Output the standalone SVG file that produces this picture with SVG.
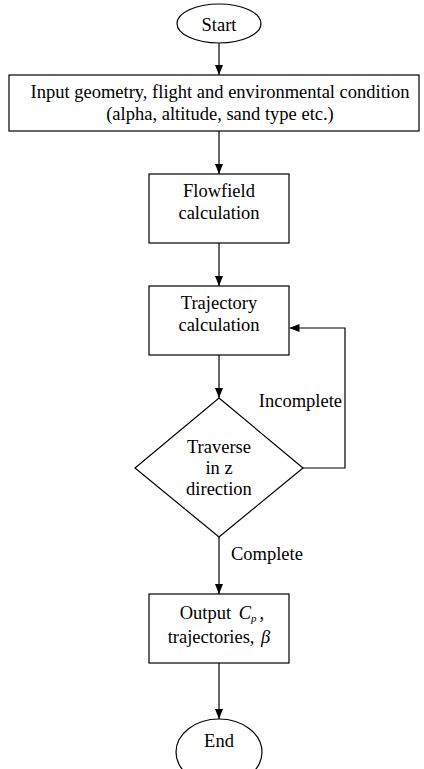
<svg xmlns="http://www.w3.org/2000/svg" width="424" height="769" viewBox="0 0 424 769">
<style>
.s{fill:#fff;stroke:#000;stroke-width:1.2}
.t{font-family:"Liberation Serif","Times New Roman",serif;font-size:18.5px;fill:#000;text-anchor:middle}
.c{fill:none;stroke:#000;stroke-width:1.2}
</style>
<defs>
<marker id="ah" markerUnits="userSpaceOnUse" markerWidth="10" markerHeight="10" viewBox="0 0 10 10" refX="10" refY="5" orient="auto">
<path d="M0,1 L10,5 L0,9 Z" fill="#000"/>
</marker>
</defs>
<rect width="424" height="769" fill="#fff"/>
<g id="connectors">
<line class="c" x1="219" y1="43" x2="219" y2="75" marker-end="url(#ah)"/>
<line class="c" x1="219" y1="131" x2="219" y2="174" marker-end="url(#ah)"/>
<line class="c" x1="219" y1="243" x2="219" y2="286" marker-end="url(#ah)"/>
<line class="c" x1="219" y1="355" x2="219" y2="398" marker-end="url(#ah)"/>
<line class="c" x1="219" y1="537" x2="219" y2="594" marker-end="url(#ah)"/>
<line class="c" x1="219" y1="663" x2="219" y2="719" marker-end="url(#ah)"/>
<polyline class="c" points="303,468 345,468 345,328 289.5,328" marker-end="url(#ah)"/>
<text class="t" x="342" y="407" style="text-anchor:end">Incomplete</text>
<text class="t" x="231" y="560" style="text-anchor:start">Complete</text>
</g>
<g id="start">
<ellipse class="s" cx="219" cy="23.5" rx="42" ry="19.5"/>
<text class="t" x="219" y="31">Start</text>
</g>
<g id="input">
<rect class="s" x="9" y="75" width="410" height="56"/>
<text class="t" x="220" y="98">Input geometry, flight and environmental condition</text>
<text class="t" x="220" y="120">(alpha, altitude, sand type etc.)</text>
</g>
<g id="flowfield">
<rect class="s" x="149" y="174" width="140" height="69"/>
<text class="t" x="219" y="197">Flowfield</text>
<text class="t" x="219" y="219">calculation</text>
</g>
<g id="trajectory">
<rect class="s" x="149" y="286" width="140" height="69"/>
<text class="t" x="219" y="309">Trajectory</text>
<text class="t" x="219" y="331">calculation</text>
</g>
<g id="traverse">
<polygon class="s" points="219,398 303,468 219,537 135,468"/>
<text class="t" x="219" y="453">Traverse</text>
<text class="t" x="219" y="474">in z</text>
<text class="t" x="219" y="495">direction</text>
</g>
<g id="output">
<rect class="s" x="149" y="594" width="140" height="69"/>
<text class="t" x="222" y="619">Output <tspan dx="3" font-style="italic">C</tspan><tspan font-style="italic" font-size="11px" dy="3">p</tspan><tspan dx="3" dy="-3">,</tspan></text>
<text class="t" x="219" y="643">trajectories, <tspan dx="2" font-style="italic">β</tspan></text>
</g>
<g id="end">
<ellipse class="s" cx="219" cy="752" rx="43" ry="33"/>
<text class="t" x="219" y="747">End</text>
</g>
</svg>
